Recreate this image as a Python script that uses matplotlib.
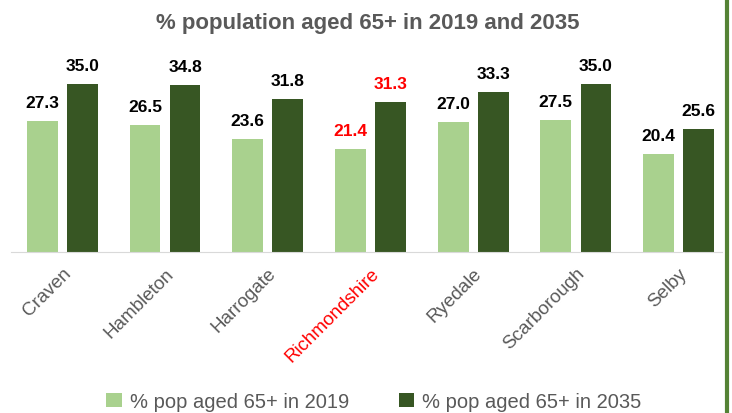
import matplotlib
matplotlib.use("Agg")
import matplotlib.pyplot as plt
from matplotlib.lines import Line2D
import numpy as np

plt.rcParams["font.family"] = ["Liberation Sans", "DejaVu Sans"]

districts = ["Craven", "Hambleton", "Harrogate", "Richmondshire", "Ryedale", "Scarborough", "Selby"]
pct_2019 = [27.3, 26.5, 23.6, 21.4, 27.0, 27.5, 20.4]
pct_2035 = [35.0, 34.8, 31.8, 31.3, 33.3, 35.0, 25.6]
series_names = ["% pop aged 65+ in 2019", "% pop aged 65+ in 2035"]
highlight = "Richmondshire"

LIGHT = "#a9d18e"
DARK = "#375623"
GREY = "#595959"

fig = plt.figure(figsize=(7.32, 4.14), dpi=100)
ax = fig.add_axes([0.015, 0.389, 0.971, 0.464])

x = np.arange(len(districts))
w = 0.30
off = 0.195
b1 = ax.bar(x - off, pct_2019, w, color=LIGHT, label=series_names[0])
b2 = ax.bar(x + off, pct_2035, w, color=DARK, label=series_names[1])

for bars, vals in [(b1, pct_2019), (b2, pct_2035)]:
    for i, (rect, v) in enumerate(zip(bars, vals)):
        col = "#ff0000" if districts[i] == highlight else "black"
        ax.annotate(f"{v:.1f}", (rect.get_x() + rect.get_width() / 2, v),
                    xytext=(0, 8), textcoords="offset points",
                    ha="center", va="bottom", fontsize=12.5, fontweight="bold", color=col)

ax.set_xlim(-0.5, 6.42)
ax.set_ylim(0, 40)
ax.set_xticks(x)
ax.set_xticklabels(districts, rotation=45, ha="right", rotation_mode="anchor",
                   fontsize=13.5, color=GREY)
for lbl in ax.get_xticklabels():
    if lbl.get_text() == highlight:
        lbl.set_color("#ff0000")
ax.tick_params(axis="x", length=0, pad=9)
ax.set_yticks([])
for s in ["left", "right", "top"]:
    ax.spines[s].set_visible(False)
ax.spines["bottom"].set_color("#d9d9d9")

fig.text(0.503, 0.944, "% population aged 65+ in 2019 and 2035", ha="center", va="center",
         fontsize=16, fontweight="bold", color=GREY)

fig.legend(handles=[b1, b2], loc="center", bbox_to_anchor=(0.511, 0.028), ncol=2,
           frameon=False, fontsize=14.5, labelcolor=GREY, handlelength=0.75, handleheight=0.75,
           handletextpad=0.4, columnspacing=2.5)

fig.add_artist(Line2D([0.9925, 0.9925], [0, 1], transform=fig.transFigure,
                      color="#548235", linewidth=3))

fig.savefig("out.png", dpi=100)
